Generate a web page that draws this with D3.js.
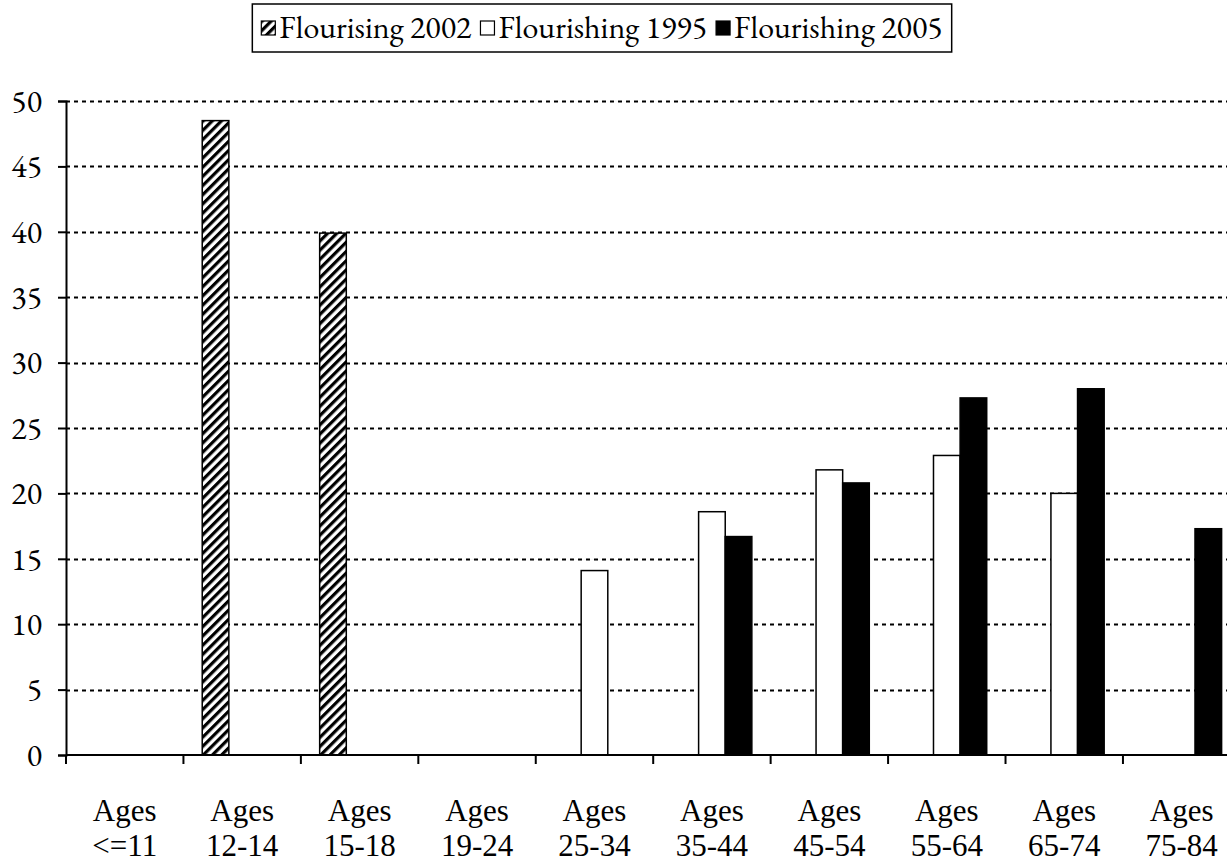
<!DOCTYPE html>
<html>
<head>
<meta charset="utf-8">
<script src="https://cdn.jsdelivr.net/npm/d3@7"></script>
</head>
<body style="margin:0;background:#fff">
<div id="chart"></div>
<script>
// age groups along the x axis (two line labels)
var categories = ["<=11", "12-14", "15-18", "19-24", "25-34", "35-44", "45-54", "55-64", "65-74", "75-84"];

// series values, null where there is no bar
var flourising2002  = [null, 48.5, 39.9, null, null, null, null, null, null, null];
var flourishing1995 = [null, null, null, null, 14.1, 18.6, 21.8, 22.9, 20.0, null];
var flourishing2005 = [null, null, null, null, null, 16.7, 20.8, 27.3, 28.0, 17.3];

var seriesNames = ["Flourising 2002", "Flourishing 1995", "Flourishing 2005"];
var yTicks = [0, 5, 10, 15, 20, 25, 30, 35, 40, 45, 50];

var width = 1227, height = 864;
var plot = {left: 66, top: 101, bottom: 755, right: 66 + 10 * 117.44};
var serif = "'EB Garamond', 'Liberation Serif', serif";
var labelFont = "'Liberation Serif', serif";

var svg = d3.select("#chart").append("svg")
	.attr("width", width)
	.attr("height", height)
	.style("display", "block");

// diagonal hatch for the 2002 series
var defs = svg.append("defs");
var hatch = defs.append("pattern")
	.attr("id", "hatch")
	.attr("patternUnits", "userSpaceOnUse")
	.attr("width", 6.5)
	.attr("height", 6.5)
	.attr("patternTransform", "rotate(45)");
hatch.append("rect").attr("width", 6.5).attr("height", 6.5).attr("fill", "#fff");
hatch.append("rect").attr("x", 0).attr("width", 3.2).attr("height", 6.5).attr("fill", "#000");

var fills = ["url(#hatch)", "#fff", "#000"];

var x0 = d3.scaleBand()
	.domain(categories)
	.range([plot.left, plot.right])
	.paddingInner(0.32)
	.paddingOuter(0.16);

var x1 = d3.scaleBand()
	.domain(seriesNames)
	.range([0, x0.bandwidth()]);

var y = d3.scaleLinear()
	.domain([0, 50])
	.range([plot.bottom, plot.top]);

// dotted gridlines
svg.append("g")
	.selectAll("line")
	.data(yTicks.filter(function(d){ return d > 0; }))
	.enter()
		.append("line")
			.attr("x1", plot.left)
			.attr("x2", width)
			.attr("y1", function(d){ return Math.round(y(d)) + 0.5; })
			.attr("y2", function(d){ return Math.round(y(d)) + 0.5; })
			.attr("stroke", "#000")
			.attr("stroke-width", 2)
			.attr("stroke-dasharray", "4,4");

// bars
var rows = categories.map(function(c, i)
	{
		return {cat: c, values: [flourising2002[i], flourishing1995[i], flourishing2005[i]]};
	}
);

var groups = svg.append("g")
	.selectAll("g")
	.data(rows)
	.enter()
		.append("g")
			.attr("transform", function(d){ return "translate(" + x0(d.cat) + ",0)"; });

groups.selectAll("rect")
	.data(function(d)
		{
			return d.values.map(function(v, k){ return {name: seriesNames[k], value: v, k: k}; })
				.filter(function(e){ return e.value !== null; });
		}
	)
	.enter()
		.append("rect")
			.attr("x", function(d){ return x1(d.name); })
			.attr("y", function(d){ return y(d.value); })
			.attr("width", x1.bandwidth())
			.attr("height", function(d){ return y(0) - y(d.value); })
			.attr("fill", function(d){ return fills[d.k]; })
			.attr("stroke", "#000")
			.attr("stroke-width", 1.5);

// y axis
var yAxis = d3.axisLeft(y)
	.tickValues(yTicks)
	.tickSize(8)
	.tickPadding(16);

var gy = svg.append("g")
	.attr("transform", "translate(" + plot.left + ",0)")
	.call(yAxis);
gy.select(".domain").attr("stroke", "#000").attr("stroke-width", 2);
gy.selectAll(".tick line").attr("stroke", "#000").attr("stroke-width", 2);
gy.selectAll(".tick text")
	.attr("fill", "#000")
	.style("font-family", serif)
	.style("font-size", "32px");

// x axis with ticks at category boundaries
svg.append("line")
	.attr("x1", plot.left)
	.attr("x2", width)
	.attr("y1", plot.bottom)
	.attr("y2", plot.bottom)
	.attr("stroke", "#000")
	.attr("stroke-width", 2);

var step = x0.step();
svg.append("g")
	.selectAll("line")
	.data(categories)
	.enter()
		.append("line")
			.attr("x1", function(d){ return x0(d) - step * 0.16; })
			.attr("x2", function(d){ return x0(d) - step * 0.16; })
			.attr("y1", plot.bottom)
			.attr("y2", plot.bottom + 9)
			.attr("stroke", "#000")
			.attr("stroke-width", 2);

var labels = svg.append("g")
	.selectAll("text")
	.data(categories)
	.enter()
		.append("text")
			.attr("text-anchor", "middle")
			.style("font-family", labelFont)
			.style("font-size", "31px")
			.attr("transform", function(d){ return "translate(" + (x0(d) + x0.bandwidth() / 2) + ",0)"; });
labels.append("tspan").attr("x", 0).attr("y", 821).text("Ages");
labels.append("tspan").attr("x", 0).attr("y", 856).text(function(d){ return d; });

// legend
var legend = svg.append("g");
var legendBox = legend.append("rect")
	.attr("fill", "#fff")
	.attr("stroke", "#000")
	.attr("stroke-width", 1.5);

var lx = 0;
var items = legend.selectAll("g")
	.data(seriesNames)
	.enter()
		.append("g");

items.each(function(name, k)
	{
		var g = d3.select(this);
		g.append("rect")
			.attr("x", lx)
			.attr("y", -17)
			.attr("width", 14)
			.attr("height", 14)
			.attr("fill", fills[k])
			.attr("stroke", "#000")
			.attr("stroke-width", 1.2);
		var t = g.append("text")
			.attr("x", lx + 18)
			.attr("y", 0)
			.style("font-family", serif)
			.style("font-size", "32px")
			.text(name);
		lx += 18 + t.node().getComputedTextLength() + 9;
	}
);

var legendWidth = lx - 9;
var legendLeft = 602 - legendWidth / 2;
legend.attr("transform", "translate(" + legendLeft + ",38)");
legendBox
	.attr("x", -9)
	.attr("y", -34)
	.attr("width", legendWidth + 18)
	.attr("height", 48);
</script>
</body>
</html>
